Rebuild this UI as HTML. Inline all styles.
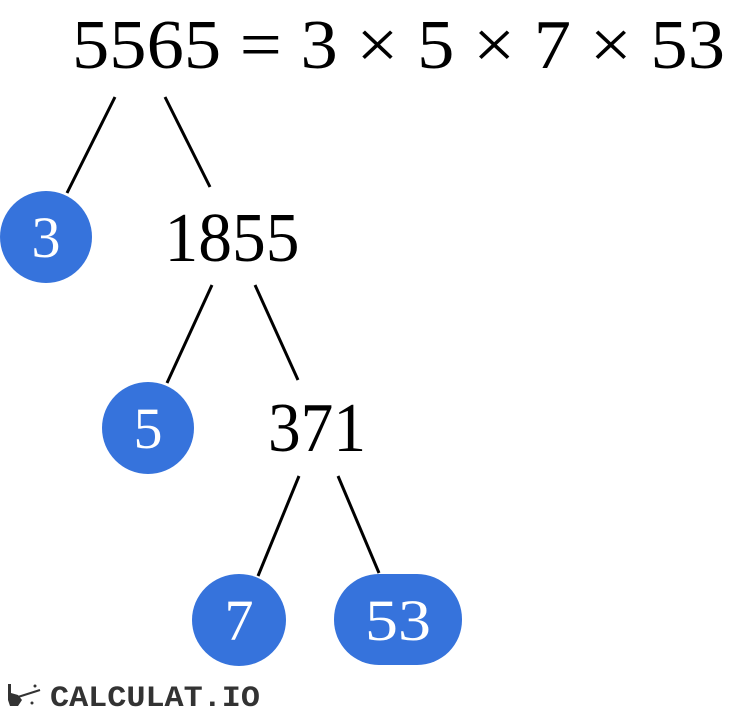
<!DOCTYPE html>
<html><head><meta charset="utf-8"><style>
html,body{margin:0;padding:0;background:#fff;}
svg{display:block;}
.s{font-family:"Liberation Serif",serif;}
.m{font-family:"Liberation Mono",monospace;font-weight:bold;}
</style></head><body>
<svg width="752" height="715" viewBox="0 0 752 715" xmlns="http://www.w3.org/2000/svg">
<text class="s" x="72" y="68" font-size="70" textLength="653" lengthAdjust="spacingAndGlyphs">5565 = 3 × 5 × 7 × 53</text>
<g stroke="#000" stroke-width="3" fill="none">
<line x1="115" y1="97" x2="67" y2="193"/>
<line x1="165" y1="97" x2="210" y2="187"/>
<line x1="212" y1="285" x2="167" y2="383"/>
<line x1="255" y1="285" x2="298" y2="380"/>
<line x1="299" y1="476" x2="258" y2="576"/>
<line x1="338" y1="476" x2="379" y2="573"/>
</g>
<text class="s" x="232" y="261" font-size="70" text-anchor="middle" textLength="135" lengthAdjust="spacingAndGlyphs">1855</text>
<text class="s" x="317" y="451" font-size="70" text-anchor="middle" textLength="98" lengthAdjust="spacingAndGlyphs">371</text>
<g fill="#3673dc">
<ellipse cx="46" cy="237" rx="46" ry="46"/>
<ellipse cx="148" cy="428" rx="46" ry="46"/>
<ellipse cx="239" cy="620" rx="47" ry="46"/>
<rect x="334" y="574" width="128" height="91" rx="45" ry="45"/>
</g>
<g class="s" fill="#fff" font-size="58" text-anchor="middle">
<text x="46" y="257">3</text>
<text x="148" y="448">5</text>
<text x="239" y="640">7</text>
<text x="398" y="640" textLength="66" lengthAdjust="spacingAndGlyphs">53</text>
</g>
<g fill="#333">
<path d="M8 684 L11 684 L11 693 L18 695 L22 700 L18 706 L10 706 L8 700 Z"/>
<line x1="18" y1="697" x2="40" y2="690" stroke="#333" stroke-width="2"/>
<circle cx="35" cy="686" r="1.5"/>
<circle cx="32" cy="703" r="1.5"/>
<text class="m" x="50" y="706" font-size="30" textLength="210" lengthAdjust="spacingAndGlyphs">CALCULAT.IO</text>
</g>
</svg>
</body></html>
